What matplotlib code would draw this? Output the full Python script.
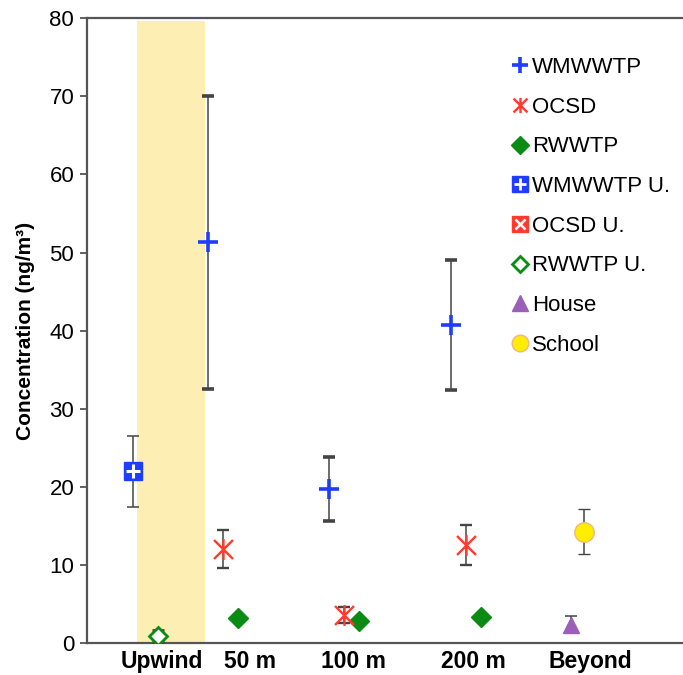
import numpy as np
import matplotlib
matplotlib.use("Agg")
import matplotlib.pyplot as plt
from matplotlib.lines import Line2D
from matplotlib.path import Path

plt.rcParams['font.family'] = ['Liberation Sans', 'DejaVu Sans']

# --- data (ng/m3) ---
site_labels = ['Upwind', '50 m', '100 m', '200 m', 'Beyond']

wmwwtp_mean = [51.3, 19.7, 40.7]
wmwwtp_err = [18.8, 4.1, 8.3]
ocsd_mean = [12.1, 3.6, 12.6]
ocsd_err = [2.45, 1.0, 2.55]
rwwtp_mean = [3.2, 2.8, 3.3]

wmwwtp_u_mean = [22.0]
wmwwtp_u_err = [4.5]
rwwtp_u_mean = [0.9]
rwwtp_u_err = [0.8]

house_mean = [2.4]
house_err = [1.1]
school_mean = [14.3]
school_err = [2.9]

# --- layout (x positions in axis units) ---
label_x = [1.26, 2.73, 4.48, 6.49, 8.44]
downwind_x = np.array([2.28, 4.31, 6.36])
offset = 0.25
upwind_band = (0.84, 1.99)
wmwwtp_u_x = [0.77]
rwwtp_u_x = [1.19]
house_x = [8.12]
school_x = [8.34]

blue = '#1f3dff'
red = '#ff3b2b'
green = '#0a8c14'
purple = '#9b5fb8'
yellow = '#ffee00'
err_col = '#444444'
spine_col = '#555555'

# X with a vertical bar, like the spreadsheet "star" marker
star = Path([(-1, -1), (1, 1), (-1, 1), (1, -1), (0, -1.1), (0, 1.1)],
            [Path.MOVETO, Path.LINETO, Path.MOVETO, Path.LINETO, Path.MOVETO, Path.LINETO])

fig = plt.figure(figsize=(6.83, 6.75), dpi=100)
ax = fig.add_axes([0.127, 0.047, 0.873, 0.926])

ax.fill_between(upwind_band, 0, 79.6, color='#fdefb4', lw=0, zorder=0)

eb = dict(ecolor=err_col, elinewidth=1.1, capsize=4, capthick=1.1, ls='none')

ax.errorbar(downwind_x - offset, wmwwtp_mean, yerr=wmwwtp_err, marker='+', ms=14,
            mew=2.6, color=blue, zorder=3, **eb)
ax.errorbar(downwind_x, ocsd_mean, yerr=ocsd_err, marker=star, ms=15,
            mew=1.7, color=red, zorder=3, **eb)
ax.plot(downwind_x + offset, rwwtp_mean, 'D', ms=10, color=green, zorder=3)

ax.errorbar(wmwwtp_u_x, wmwwtp_u_mean, yerr=wmwwtp_u_err, marker='s', ms=13,
            color=blue, zorder=3, **eb)
ax.plot(wmwwtp_u_x, wmwwtp_u_mean, '+', ms=10, mew=2.2, color='white', zorder=4)
ax.errorbar(rwwtp_u_x, rwwtp_u_mean, yerr=rwwtp_u_err, marker='D', ms=9, mew=2,
            mfc='white', mec=green, color=green, zorder=3, **eb)

ax.errorbar(house_x, house_mean, yerr=house_err, marker='^', ms=12, color=purple,
            zorder=3, **eb)
ax.errorbar(school_x, school_mean, yerr=school_err, marker='o', ms=14, mfc=yellow,
            mec='#f2b48a', mew=1, color=yellow, zorder=3, **eb)

ax.set_xlim(0, 10)
ax.set_ylim(0, 80)
ax.set_yticks(np.arange(0, 81, 10))
ax.set_xticks(label_x)
ax.set_xticklabels(site_labels, fontsize=16.5, fontweight='bold')
ax.tick_params(axis='x', length=0, pad=5)
ax.tick_params(axis='y', labelsize=16, length=5, width=1.3, color=spine_col, pad=4)
ax.set_ylabel('Concentration (ng/m³)', fontsize=15, fontweight='bold', labelpad=10)

for side in ['left', 'bottom', 'top']:
    ax.spines[side].set_color(spine_col)
    ax.spines[side].set_linewidth(1.6)
ax.spines['right'].set_visible(False)

# legend handles
h_w = Line2D([], [], marker='+', ms=12, mew=2.6, color=blue, ls='none')
h_o = Line2D([], [], marker=star, ms=11, mew=1.7, color=red, ls='none')
h_r = Line2D([], [], marker='D', ms=9, color=green, ls='none')
h_wu = (Line2D([], [], marker='s', ms=12, color=blue, ls='none'),
        Line2D([], [], marker='+', ms=9, mew=2, color='white', ls='none'))
h_ou = (Line2D([], [], marker='s', ms=12, color=red, ls='none'),
        Line2D([], [], marker='x', ms=7, mew=1.8, color='white', ls='none'))
h_ru = Line2D([], [], marker='D', ms=8, mew=2, mfc='white', mec=green, ls='none')
h_h = Line2D([], [], marker='^', ms=11, color=purple, ls='none')
h_s = Line2D([], [], marker='o', ms=12, mfc=yellow, mec='#f2b48a', ls='none')

ax.legend([h_w, h_o, h_r, h_wu, h_ou, h_ru, h_h, h_s],
          ['WMWWTP', 'OCSD', 'RWWTP', 'WMWWTP U.', 'OCSD U.', 'RWWTP U.', 'House', 'School'],
          loc='upper left', bbox_to_anchor=(0.698, 0.952), frameon=False, fontsize=16,
          handlelength=0.7, handletextpad=0.2, labelspacing=0.84, borderaxespad=0)

fig.savefig('out.png', dpi=100)
